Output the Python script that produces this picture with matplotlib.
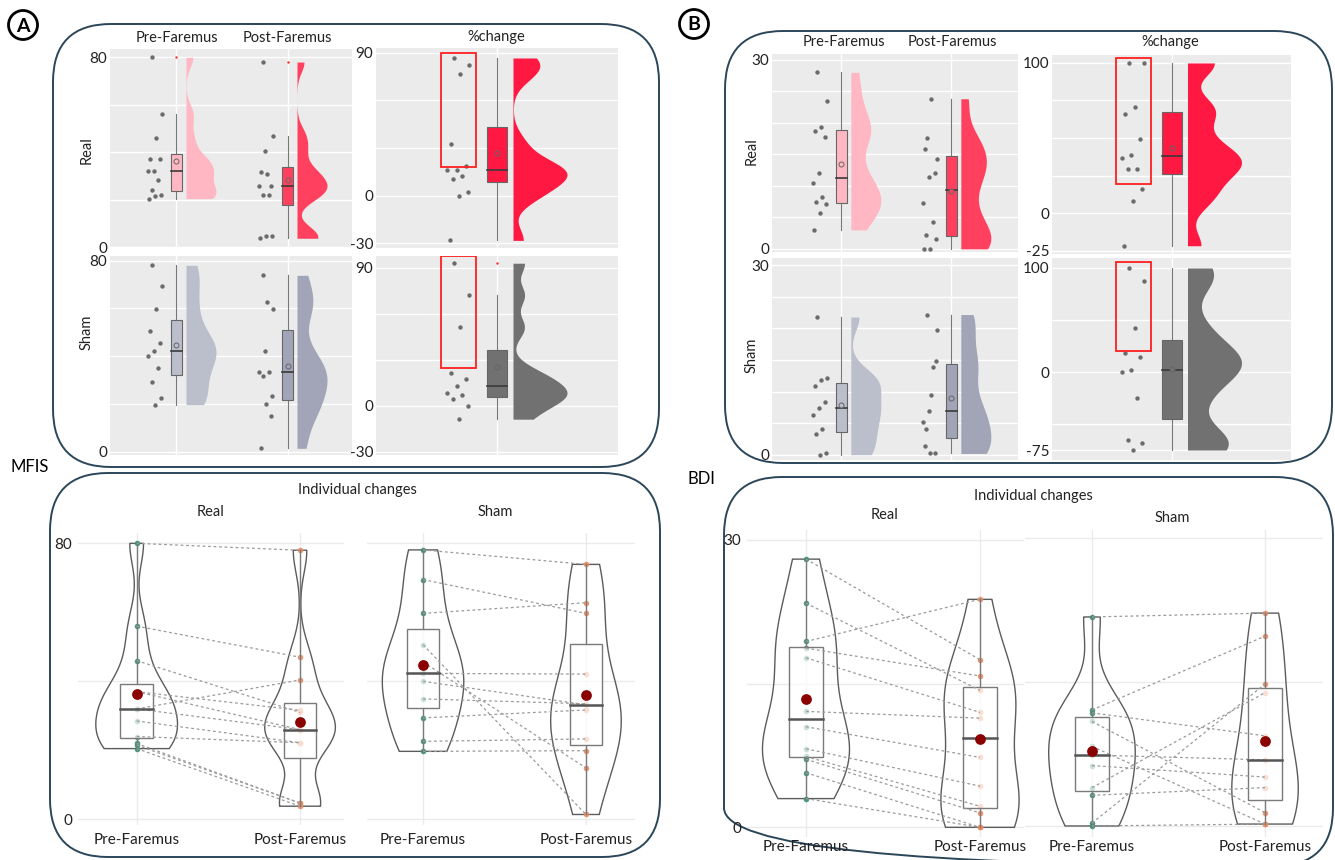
import numpy as np
import matplotlib
matplotlib.use("Agg")
import matplotlib.pyplot as plt
from matplotlib.patches import FancyBboxPatch, Rectangle, Circle

plt.rcParams["font.family"] = ["Lato", "DejaVu Sans"]

# ---------------------------------------------------------------- data
timepoints = ["Pre-Faremus", "Post-Faremus"]
groups = ["Real", "Sham"]

# MFIS scores, pre[i] and post[i] belong to the same participant
mfis_real_pre = [80, 56, 46, 37, 37, 32, 32, 28.5, 24, 22, 21.5, 20.5]
mfis_real_post = [78, 47, 31, 31.6, 26, 40.4, 26, 22.2, 22.2, 4.7, 4.7, 3.8]
mfis_real_pct = [86.7, 82.3, 76.4, 32.5, 18.9, 16.2, 16.2, 12.4, 10.5, 2.5, 0.0, -28.1]
mfis_sham_pre = [78.1, 69.5, 59.7, 50.6, 45.6, 42.3, 40.0, 34.9, 29.4, 22.6, 19.7]
mfis_sham_post = [73.9, 59.7, 62.8, 1.4, 14.9, 42.1, 33.2, 33.5, 31.7, 23.3, 19.9]
mfis_sham_pct = [92.8, 72.0, 51.0, 21.6, 17.5, 12.9, 8.4, 7.1, 4.3, 0.0, -8.7]

# BDI scores
bdi_real_pre = [28.0, 23.4, 19.4, 18.7, 17.7, 12.1, 10.5, 8.2, 7.4, 7.1, 5.7, 3.0]
bdi_real_post = [17.5, 14.3, 23.8, 15.8, 12.0, 11.4, 7.3, 4.3, 2.2, 1.5, 0.0, 0.0]
bdi_real_pct = [100, 100, 70.7, 66.2, 49.3, 38.9, 36.7, 29.6, 29.1, 16.2, 7.8, -21.8]
bdi_sham_pre = [21.8, 12.1, 11.8, 10.9, 8.3, 7.4, 6.3, 4.0, 3.2, 0.3, 0.0]
bdi_sham_post = [22.2, 19.8, 9.4, 1.4, 0.2, 6.9, 5.1, 13.9, 4.0, 14.8, 0.2]
bdi_sham_pct = [100, 87.5, 42.3, 18.3, 14.7, 1.6, 0.3, -24.7, -65.1, -68.3, -75.0]

# value ranges of the highlighted responders (Real, Sham)
mfis_highlight = [(18.3, 90.0), (24.4, 97.5)]
bdi_highlight = [(19.3, 103.3), (19.9, 105.4)]

# ---------------------------------------------------------------- style
COL_REAL_PRE = "#FFB7C3"
COL_REAL_POST = "#FF415F"
COL_REAL_PCT = "#FF1942"
COL_SHAM_PRE = "#BBBECB"
COL_SHAM_POST = "#A1A5B7"
COL_SHAM_PCT = "#717171"
COL_FRAME = "#2B4659"
COL_PT_PRE = "#3C8E76"
COL_PT_POST = "#EC8A60"

W, H = 1335, 860
fig = plt.figure(figsize=(W / 100, H / 100), dpi=100)
fig.patch.set_facecolor("white")

# full-figure pixel overlay for frames and free text
ov = fig.add_axes([0, 0, 1, 1])
ov.set_xlim(0, W)
ov.set_ylim(H, 0)
ov.axis("off")
ov.patch.set_visible(False)


def px_axes(x0, y0, x1, y1):
    return fig.add_axes([x0 / W, 1 - y1 / H, (x1 - x0) / W, (y1 - y0) / H])


def kde(v, ys, factor):
    v = np.asarray(v, float)
    n = len(v)
    q1, q3 = np.percentile(v, [25, 75])
    bw = factor * min(v.std(ddof=1), (q3 - q1) / 1.349) * n ** -0.2
    z = (ys[:, None] - v[None, :]) / bw
    return np.exp(-0.5 * z * z).sum(1) / (n * bw * np.sqrt(2 * np.pi))


def style_top(ax, xlim, ylim, labeled, grid, xcats):
    ax.set_facecolor("#EBEBEB")
    for s in ax.spines.values():
        s.set_visible(False)
    ax.set_xlim(*xlim)
    ax.set_ylim(*ylim)
    ax.set_yticks(labeled)
    ax.set_yticklabels([str(t) for t in labeled])
    ax.set_yticks(grid, minor=True)
    ax.set_xticks(xcats)
    ax.set_xticklabels([])
    ax.tick_params(which="both", length=0, pad=2, labelsize=11, colors="#222222")
    ax.grid(True, which="both", color="white", lw=1.0)
    ax.set_axisbelow(True)


def raincloud(ax, vals, pos, color, ppu, pt_off, pt_spread, box_hw, vio_off, vio_w, bwf):
    v = np.asarray(vals, float)
    n = len(v)
    jit = ((np.arange(n) * 0.6180339887 + 0.31) % 1.0) * 2 - 1
    ax.scatter(pos + (pt_off + pt_spread * jit) / ppu, v, s=10, color="#555555",
               alpha=0.85, linewidths=0, zorder=3)
    q1, med, q3 = np.percentile(v, [25, 50, 75])
    iqr = q3 - q1
    lo = v[v >= q1 - 1.5 * iqr].min()
    hi = v[v <= q3 + 1.5 * iqr].max()
    hw = box_hw / ppu
    ax.plot([pos, pos], [lo, q1], color="#777777", lw=0.8, zorder=3)
    ax.plot([pos, pos], [q3, hi], color="#777777", lw=0.8, zorder=3)
    ax.add_patch(Rectangle((pos - hw, q1), 2 * hw, q3 - q1, fc=color, ec="#666666",
                           lw=0.8, zorder=4))
    ax.plot([pos - hw, pos + hw], [med, med], color="#3a3a3a", lw=1.2, zorder=5)
    ax.scatter([pos], [v.mean()], s=13, fc=color, ec="#666666", lw=0.7, zorder=6)
    out = v[(v < lo) | (v > hi)]
    ax.scatter(np.full(len(out), pos), out, s=3, color="#FF2A2A", lw=0, zorder=6)
    ys = np.linspace(v.min(), v.max(), 300)
    d = kde(v, ys, bwf)
    x0 = pos + vio_off / ppu
    ax.fill_betweenx(ys, x0, x0 + d / d.max() * vio_w / ppu, color=color, lw=0, zorder=2)


def top_block(ax_pp, ax_pc, pre, post, pct, cols, pp_ppu, pc_ppu, hl):
    for pos, vals, c in zip([0, 1], [pre, post], cols[:2]):
        raincloud(ax_pp, vals, pos, c, pp_ppu, -21, 8, 5.7, 9.5, 30, 0.6)
    raincloud(ax_pc, pct, 0, cols[2], pc_ppu, -38, 12, 10, 16, 54, 0.5)
    ax_pc.add_patch(Rectangle((-56 / pc_ppu, hl[0]), 35 / pc_ppu, hl[1] - hl[0],
                              fc="none", ec="#FF2020", lw=1.3, zorder=7))


# ------------------------------------------------------- top panels: MFIS
mfis_pp_xlim = (-0.599, 1.581)
ax_mr = px_axes(110, 49, 352, 248)
style_top(ax_mr, mfis_pp_xlim, (-0.3, 83.5), [0, 80], [20, 40, 60], [0, 1])
ax_mrc = px_axes(376, 48, 618, 248)
style_top(ax_mrc, (-0.5, 0.5), (-32.9, 93), [-30, 0, 90], [30, 60], [0])
top_block(ax_mr, ax_mrc, mfis_real_pre, mfis_real_post, mfis_real_pct,
          [COL_REAL_PRE, COL_REAL_POST, COL_REAL_PCT], 111, 242, mfis_highlight[0])

ax_ms = px_axes(110, 256, 352, 455)
style_top(ax_ms, mfis_pp_xlim, (-1.4, 82), [0, 80], [20, 40, 60], [0, 1])
ax_msc = px_axes(376, 256, 618, 455)
style_top(ax_msc, (-0.5, 0.5), (-32, 97.5), [-30, 0, 90], [30, 60], [0])
top_block(ax_ms, ax_msc, mfis_sham_pre, mfis_sham_post, mfis_sham_pct,
          [COL_SHAM_PRE, COL_SHAM_POST, COL_SHAM_PCT], 111, 242, mfis_highlight[1])

# -------------------------------------------------------- top panels: BDI
bdi_pp_xlim = (-0.63, 1.606)
ax_br = px_axes(772, 54, 1018, 252)
style_top(ax_br, bdi_pp_xlim, (-0.5, 30.9), [0, 30], [5, 10, 15, 20, 25], [0, 1])
ax_brc = px_axes(1052, 55, 1291, 254)
style_top(ax_brc, (-0.5, 0.5), (-27.3, 105.3), [-25, 0, 100], [25, 50, 75], [0])
top_block(ax_br, ax_brc, bdi_real_pre, bdi_real_post, bdi_real_pct,
          [COL_REAL_PRE, COL_REAL_POST, COL_REAL_PCT], 110, 239, bdi_highlight[0])

ax_bs = px_axes(772, 258, 1018, 460)
style_top(ax_bs, bdi_pp_xlim, (-0.84, 31.15), [0, 30], [5, 10, 15, 20, 25], [0, 1])
ax_bsc = px_axes(1052, 258, 1291, 460)
style_top(ax_bsc, (-0.5, 0.5), (-84.6, 109.6), [-75, 0, 100], [-50, 50], [0])
top_block(ax_bs, ax_bsc, bdi_sham_pre, bdi_sham_post, bdi_sham_pct,
          [COL_SHAM_PRE, COL_SHAM_POST, COL_SHAM_PCT], 110, 239, bdi_highlight[1])


# ------------------------------------------------- bottom: individual changes
def style_bottom(ax, xlim, ylim, labeled, minor, show_y, xpad):
    ax.set_facecolor("none")
    for s in ax.spines.values():
        s.set_visible(False)
    ax.set_xlim(*xlim)
    ax.set_ylim(*ylim)
    ax.set_yticks(labeled)
    ax.set_yticklabels([str(t) for t in labeled] if show_y else [])
    ax.set_yticks(minor, minor=True)
    ax.set_xticks([0, 1])
    ax.set_xticklabels(timepoints)
    ax.tick_params(which="both", length=0, labelsize=11, colors="#222222")
    ax.tick_params(axis="y", pad=4)
    ax.tick_params(axis="x", pad=xpad)
    ax.grid(True, which="both", color="#EBEBEB", lw=1.0)
    ax.set_axisbelow(True)


def paired(ax, pre, post):
    data = [np.asarray(pre, float), np.asarray(post, float)]
    curves = []
    for v in data:
        ys = np.linspace(v.min(), v.max(), 300)
        curves.append((ys, kde(v, ys, 0.9)))
    dmax = max(d.max() for _, d in curves)
    for pos, (ys, d) in enumerate(curves):
        w = 0.25 * d / dmax
        ax.fill(np.concatenate([pos - w, (pos + w)[::-1]]),
                np.concatenate([ys, ys[::-1]]), fc="none", ec="#5c5c5c", lw=1.0, zorder=1)
    for pos, v, c in zip([0, 1], data, [COL_PT_PRE, COL_PT_POST]):
        ax.scatter(np.full(len(v), pos), v, s=16, color=c, alpha=0.9, lw=0, zorder=2)
        q1, med, q3 = np.percentile(v, [25, 50, 75])
        ax.plot([pos, pos], [v.min(), q1], color="#7a7a7a", lw=1.0, zorder=3)
        ax.plot([pos, pos], [q3, v.max()], color="#7a7a7a", lw=1.0, zorder=3)
        ax.add_patch(Rectangle((pos - 0.1, q1), 0.2, q3 - q1, fc=(1, 1, 1, 0.7),
                               ec="#7a7a7a", lw=1.0, zorder=3))
        ax.plot([pos - 0.1, pos + 0.1], [med, med], color="#555555", lw=1.8, zorder=5)
        ax.scatter([pos], [v.mean()], s=60, color="#8B0000", lw=0, zorder=6)
    for a, b in zip(pre, post):
        ax.plot([0, 1], [a, b], color="#9a9a9a", lw=0.9, ls=(0, (2.2, 2.2)), zorder=4)


ax = px_axes(78, 533, 344, 825)
style_bottom(ax, (-0.359, 1.269), (-1.65, 83.0), [0, 80], [40], True, 6)
paired(ax, mfis_real_pre, mfis_real_post)
ax = px_axes(367, 533, 635, 825)
style_bottom(ax, (-0.344, 1.301), (-1.65, 83.0), [0, 80], [40], False, 6)
paired(ax, mfis_sham_pre, mfis_sham_post)

ax = px_axes(747, 530, 1024, 837)
style_bottom(ax, (-0.339, 1.253), (-1.01, 31.04), [0, 30], [15], True, 2)
paired(ax, bdi_real_pre, bdi_real_post)
ax = px_axes(1025, 530, 1323, 837)
style_bottom(ax, (-0.387, 1.335), (-1.15, 30.87), [0, 30], [15], False, 2)
paired(ax, bdi_sham_pre, bdi_sham_post)

# ------------------------------------------------------------ frames & text
for (x0, y0, x1, y1) in [(53, 24, 659, 467), (50, 473, 660, 857),
                         (725, 31, 1332, 463), (724, 477, 1333, 866)]:
    ov.add_patch(FancyBboxPatch((x0, y0), x1 - x0, y1 - y0,
                                boxstyle="round,pad=0,rounding_size=58",
                                fc="none", ec=COL_FRAME, lw=1.4))

for (cx, cy, letter) in [(23, 25, "A"), (694, 24, "B")]:
    ov.add_patch(Circle((cx, cy), 14.5, fc="white", ec="black", lw=2.0))
    ov.text(cx, cy + 1, letter, ha="center", va="center", fontsize=14,
            fontweight="bold", color="black")

tk = dict(ha="center", va="center", fontsize=10.5, color="#222222")
for x, y, s in [(177, 38, "Pre-Faremus"), (287, 38, "Post-Faremus"), (496, 37, "%change"),
                (844, 42, "Pre-Faremus"), (952, 42, "Post-Faremus"), (1170, 42, "%change"),
                (357, 490, "Individual changes"), (210, 512, "Real"), (495, 512, "Sham"),
                (1033, 496, "Individual changes"), (884, 515, "Real"), (1172, 518, "Sham")]:
    ov.text(x, y, s, **tk)

for x, y, s in [(87, 150, "Real"), (87, 332, "Sham"), (752, 151, "Real"), (752, 355, "Sham")]:
    ov.text(x, y, s, rotation=90, **tk)

ov.text(30, 467, "MFIS", ha="center", va="center", fontsize=12, color="black")
ov.text(701, 479, "BDI", ha="center", va="center", fontsize=12, color="black")

fig.savefig("out.png", dpi=100)
